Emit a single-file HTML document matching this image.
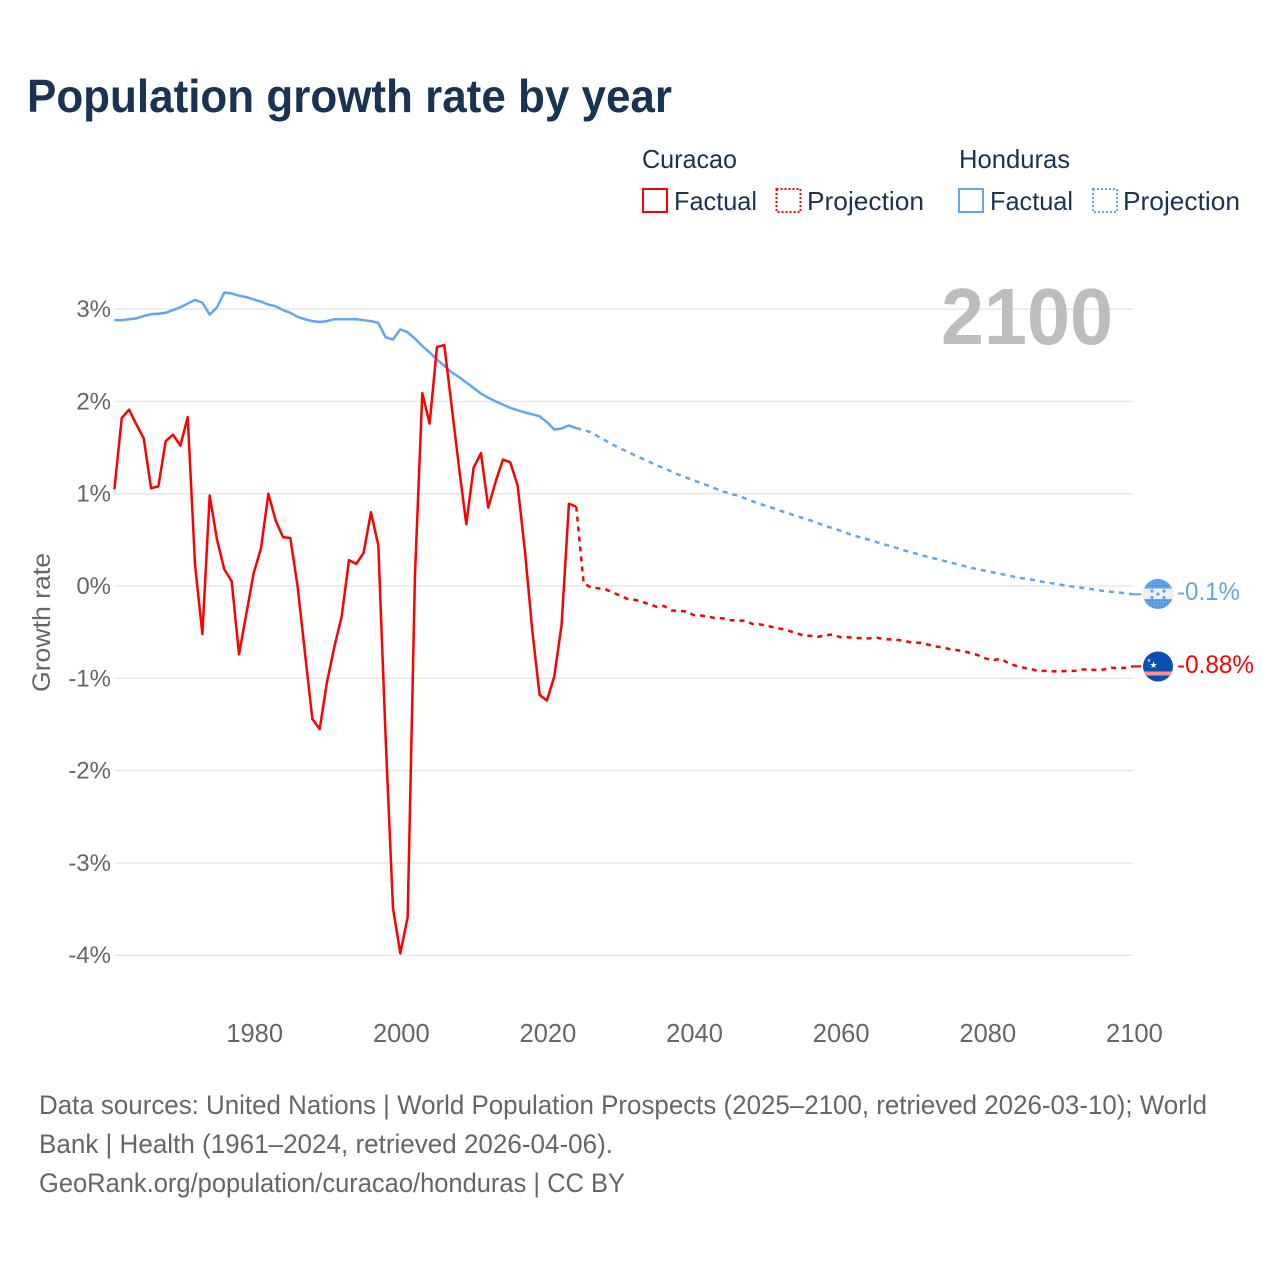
<!DOCTYPE html>
<html lang="en">
<head>
<meta charset="utf-8">
<title>Population growth rate by year</title>
<style>
html,body{margin:0;padding:0;background:#fff;}
svg{display:block;font-family:"Liberation Sans",sans-serif;}
</style>
</head>
<body>
<svg id="chart" xmlns="http://www.w3.org/2000/svg" width="1280" height="1280" viewBox="0 0 1280 1280">
  <defs>
    <clipPath id="hn-clip"><circle cx="1158" cy="594" r="15"/></clipPath>
    <clipPath id="cw-clip"><circle cx="1158" cy="666.5" r="15"/></clipPath>
    <pattern id="hn-dots" width="3" height="3" patternUnits="userSpaceOnUse"><rect width="3" height="3" fill="#63a5ee"/><rect width="1.5" height="1.5" fill="#4a86cc"/></pattern>
  </defs>
  <rect width="1280" height="1280" fill="#fff"/>
  <text x="27" y="112" font-size="46" font-weight="700" fill="#1a3352" textLength="645" lengthAdjust="spacingAndGlyphs">Population growth rate by year</text>

  <g font-size="26" fill="#1a3352">
    <text x="642" y="168" textLength="95" lengthAdjust="spacingAndGlyphs">Curacao</text>
    <rect x="643" y="189" width="24" height="23" fill="none" stroke="#ff0000" stroke-width="2"/>
    <text x="674" y="210" textLength="83" lengthAdjust="spacingAndGlyphs">Factual</text>
    <rect x="776.5" y="189" width="24" height="23" fill="none" stroke="#ff0000" stroke-width="2" stroke-dasharray="2 2"/>
    <text x="807" y="210" textLength="117" lengthAdjust="spacingAndGlyphs">Projection</text>
    <text x="959" y="168" textLength="111" lengthAdjust="spacingAndGlyphs">Honduras</text>
    <rect x="959" y="189" width="24" height="23" fill="none" stroke="#63a5ee" stroke-width="2"/>
    <text x="990" y="210" textLength="83" lengthAdjust="spacingAndGlyphs">Factual</text>
    <rect x="1093" y="189" width="24" height="23" fill="none" stroke="#63a5ee" stroke-width="2" stroke-dasharray="2 2"/>
    <text x="1123" y="210" textLength="117" lengthAdjust="spacingAndGlyphs">Projection</text>
  </g>

  <g id="grid"></g>
  <text x="941" y="344" font-size="80" font-weight="700" fill="#bdbdbd" textLength="172" lengthAdjust="spacingAndGlyphs">2100</text>
  <text transform="translate(50 692) rotate(-90)" font-size="25" fill="#666" textLength="139" lengthAdjust="spacingAndGlyphs">Growth rate</text>
  <g id="y-ticks"></g>
  <g id="x-ticks"></g>
  <g id="series" fill="none" stroke-width="2.5" stroke-linejoin="round"></g>

  <g clip-path="url(#hn-clip)">
    <rect x="1143" y="579" width="30" height="30" fill="url(#hn-dots)"/>
    <rect x="1143" y="588.5" width="30" height="10.5" fill="#efefef"/>
    <g fill="#63a5ee">
      <circle cx="1152" cy="591" r="1.6"/><circle cx="1164" cy="591" r="1.6"/><circle cx="1158" cy="594" r="1.6"/><circle cx="1152" cy="597.5" r="1.6"/><circle cx="1164" cy="597.5" r="1.6"/>
    </g>
  </g>
  <g clip-path="url(#cw-clip)">
    <rect x="1143" y="651" width="30" height="31" fill="#0a50b0"/>
    <rect x="1143" y="671.5" width="30" height="4" fill="#ff8f8f"/>
    <text x="1153.5" y="668" font-size="9" fill="#fff" text-anchor="middle">★</text>
    <text x="1149" y="662" font-size="5" fill="#dfe8f5" text-anchor="middle">★</text>
  </g>
  <text x="1177" y="600" font-size="25" fill="#63a5ee" textLength="63" lengthAdjust="spacingAndGlyphs">-0.1%</text>
  <text x="1177" y="673" font-size="25" fill="#ff0000" textLength="77" lengthAdjust="spacingAndGlyphs">-0.88%</text>

  <g font-size="27" fill="#666">
    <text x="39" y="1114" textLength="1168" lengthAdjust="spacingAndGlyphs">Data sources: United Nations | World Population Prospects (2025–2100, retrieved 2026-03-10); World</text>
    <text x="39" y="1153" textLength="574" lengthAdjust="spacingAndGlyphs">Bank | Health (1961–2024, retrieved 2026-04-06).</text>
    <a><text x="39" y="1192" textLength="586" lengthAdjust="spacingAndGlyphs">GeoRank.org/population/curacao/honduras | CC BY</text></a>
  </g>
</svg>
<script>
const factualStartYear = 1961;
const projectionStartYear = 2024;
const yTickValues = [3, 2, 1, 0, -1, -2, -3, -4];
const yTickLabels = ["3%", "2%", "1%", "0%", "-1%", "-2%", "-3%", "-4%"];
const xTickValues = [1980, 2000, 2020, 2040, 2060, 2080, 2100];
const xTickLabels = ["1980", "2000", "2020", "2040", "2060", "2080", "2100"];

const curacaoFactual = [1.05,1.82,1.91,1.75,1.60,1.06,1.08,1.57,1.64,1.52,1.83,0.23,-0.52,0.98,0.50,0.18,0.05,-0.74,-0.30,0.14,0.41,1.00,0.71,0.53,0.52,-0.01,-0.73,-1.44,-1.55,-1.04,-0.66,-0.33,0.28,0.24,0.36,0.80,0.44,-1.65,-3.49,-3.98,-3.59,0.12,2.09,1.76,2.59,2.61,1.95,1.29,0.67,1.28,1.44,0.85,1.13,1.37,1.34,1.09,0.38,-0.48,-1.18,-1.24,-0.98,-0.42,0.89,0.86];
const curacaoProjection = [0.86,0.03,-0.015,-0.025,-0.036,-0.07,-0.105,-0.14,-0.15,-0.17,-0.20,-0.225,-0.217,-0.265,-0.27,-0.275,-0.315,-0.32,-0.33,-0.35,-0.35,-0.37,-0.375,-0.375,-0.41,-0.415,-0.43,-0.45,-0.465,-0.485,-0.51,-0.535,-0.54,-0.55,-0.535,-0.525,-0.555,-0.555,-0.56,-0.567,-0.567,-0.56,-0.575,-0.58,-0.585,-0.60,-0.615,-0.615,-0.635,-0.655,-0.665,-0.685,-0.695,-0.71,-0.73,-0.755,-0.79,-0.80,-0.79,-0.84,-0.865,-0.885,-0.90,-0.92,-0.92,-0.925,-0.925,-0.92,-0.92,-0.905,-0.905,-0.91,-0.905,-0.885,-0.89,-0.885,-0.87];
const hondurasFactual = [2.88,2.88,2.89,2.90,2.925,2.945,2.95,2.96,2.99,3.02,3.06,3.10,3.07,2.94,3.02,3.18,3.17,3.145,3.13,3.105,3.08,3.05,3.03,2.99,2.96,2.915,2.89,2.87,2.86,2.87,2.89,2.89,2.89,2.89,2.88,2.87,2.85,2.695,2.67,2.78,2.75,2.68,2.60,2.53,2.455,2.385,2.315,2.265,2.205,2.145,2.085,2.04,2.00,1.965,1.93,1.905,1.88,1.86,1.84,1.775,1.695,1.705,1.74,1.71];
const hondurasProjection = [1.71,1.69,1.665,1.62,1.575,1.53,1.49,1.455,1.415,1.38,1.345,1.305,1.275,1.24,1.205,1.175,1.145,1.115,1.087,1.055,1.025,1.0,0.98,0.95,0.92,0.89,0.865,0.84,0.81,0.785,0.76,0.735,0.71,0.68,0.65,0.625,0.6,0.57,0.545,0.52,0.5,0.475,0.45,0.43,0.405,0.38,0.36,0.335,0.315,0.295,0.275,0.255,0.235,0.215,0.195,0.178,0.16,0.145,0.13,0.112,0.095,0.082,0.07,0.055,0.04,0.028,0.015,0.002,-0.01,-0.02,-0.03,-0.042,-0.055,-0.062,-0.07,-0.08,-0.09];

const NS = "http://www.w3.org/2000/svg";
const xScale = year => 114.4 + (year - 1961) * (1133.4 - 114.4) / (2100 - 1961);
const yScale = value => 586 - value * 92.3;

function linePath(values, startYear) {
  return values.map((v, i) => (i ? "L" : "M") + xScale(startYear + i).toFixed(2) + " " + yScale(v).toFixed(2)).join(" ");
}

const gridGroup = document.getElementById("grid");
const yTickGroup = document.getElementById("y-ticks");
const xTickGroup = document.getElementById("x-ticks");
const seriesGroup = document.getElementById("series");

yTickValues.forEach((value, i) => {
  const grid = document.createElementNS(NS, "line");
  
  
  grid.setAttribute("x1", xScale(1961));
  grid.setAttribute("x2", xScale(2100));
  grid.setAttribute("y1", yScale(value));
  grid.setAttribute("y2", yScale(value));
  grid.setAttribute("stroke", "#e8e8e8");
  grid.setAttribute("stroke-width", "1.5");
  gridGroup.appendChild(grid);

  const label = document.createElementNS(NS, "text");
  
  
  label.setAttribute("x", 111);
  label.setAttribute("y", yScale(value) + 8);
  label.setAttribute("text-anchor", "end");
  label.setAttribute("font-size", "24");
  label.setAttribute("fill", "#666");
  label.textContent = yTickLabels[i];
  yTickGroup.appendChild(label);
});

xTickValues.forEach((year, i) => {
  const label = document.createElementNS(NS, "text");
  
  
  label.setAttribute("x", xScale(year) + 1);
  label.setAttribute("y", 1042);
  label.setAttribute("text-anchor", "middle");
  label.setAttribute("font-size", "25.5");
  label.setAttribute("fill", "#666");
  label.textContent = xTickLabels[i];
  xTickGroup.appendChild(label);
});

function addSeries(name, values, startYear, color, dashed) {
  const path = document.createElementNS(NS, "path");
  
  
  path.setAttribute("d", linePath(values, startYear));
  path.setAttribute("stroke", color);
  if (dashed) path.setAttribute("stroke-dasharray", "5 5");
  seriesGroup.appendChild(path);
}

addSeries("honduras-factual-line", hondurasFactual, factualStartYear, "#63a5ee", false);
addSeries("honduras-projection-line", hondurasProjection, projectionStartYear, "#63a5ee", true);
addSeries("curacao-factual-line", curacaoFactual, factualStartYear, "#ff0000", false);
addSeries("curacao-projection-line", curacaoProjection, projectionStartYear, "#ff0000", true);

function addConnector(name, lastValue, color) {
  const tick = document.createElementNS(NS, "line");
  
  
  tick.setAttribute("x1", xScale(2100));
  tick.setAttribute("x2", xScale(2100) + 8);
  tick.setAttribute("y1", yScale(lastValue));
  tick.setAttribute("y2", yScale(lastValue));
  tick.setAttribute("stroke", color);
  tick.setAttribute("stroke-width", "2");
  seriesGroup.appendChild(tick);
}
addConnector("honduras-flag-connector", hondurasProjection[hondurasProjection.length - 1], "#63a5ee");
addConnector("curacao-flag-connector", curacaoProjection[curacaoProjection.length - 1], "#ff0000");
</script>
</body>
</html>
